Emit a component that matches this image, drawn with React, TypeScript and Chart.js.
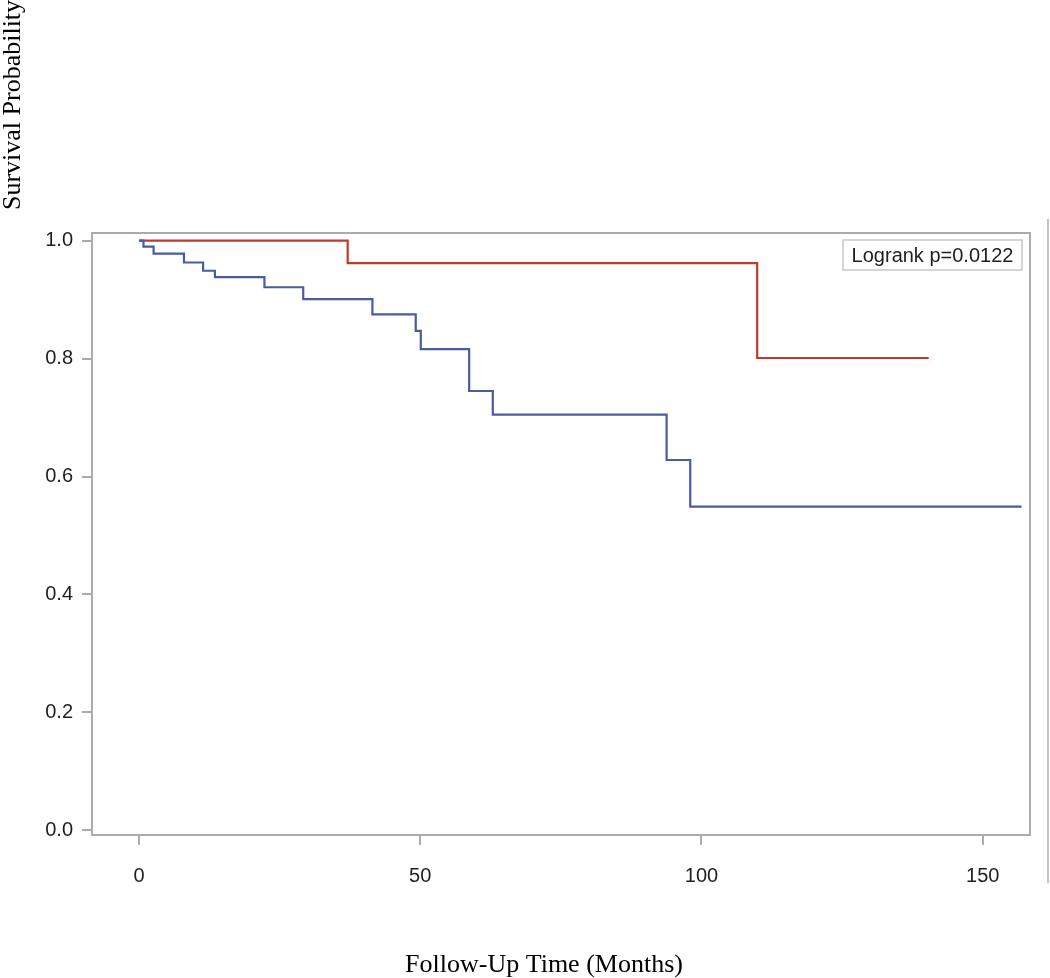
import React, { useEffect, useRef } from "react";
import { Chart, registerables } from "chart.js";

Chart.register(...registerables);

// Kaplan-Meier curves: time (months) of each step and survival after the step
const blueTimes = [0, 0.3, 0.8, 2.6, 8.0, 11.4, 13.5, 22.3, 29.2, 41.5, 49.2, 50.1, 58.7, 62.9, 93.8, 98.0, 156.9];
const blueSurv = [1.0, 1.0, 0.990, 0.978, 0.963, 0.949, 0.938, 0.921, 0.901, 0.875, 0.847, 0.816, 0.745, 0.705, 0.628, 0.549, 0.549];

const redTimes = [0, 37.1, 109.9, 140.4];
const redSurv = [1.0, 0.962, 0.801, 0.801];

const xTicks = [0, 50, 100, 150];
const yTicks = [0.0, 0.2, 0.4, 0.6, 0.8, 1.0];

const xTitle = "Follow-Up Time (Months)";
const yTitle = "Survival Probability";
const statText = "Logrank p=0.0122";

const SANS = "'Liberation Sans', Arial, sans-serif";
const SERIF = "'Liberation Serif', 'Times New Roman', serif";
const FRAME = "#ababab";

const decorPlugin = {
  id: "decor",
  afterDraw(chart: any) {
    const { ctx, chartArea } = chart;
    ctx.save();
    // frame top and right
    ctx.strokeStyle = FRAME;
    ctx.lineWidth = 2;
    ctx.beginPath();
    ctx.moveTo(chartArea.left, chartArea.top);
    ctx.lineTo(chartArea.right, chartArea.top);
    ctx.lineTo(chartArea.right, chartArea.bottom);
    ctx.stroke();

    // outer vertical rule at right
    ctx.strokeStyle = "#c4c4c4";
    ctx.lineWidth = 2;
    ctx.beginPath();
    ctx.moveTo(1048, 219);
    ctx.lineTo(1048, 883);
    ctx.stroke();

    // logrank box
    const bx = 843, by = 240, bw = 179, bh = 30;
    ctx.fillStyle = "#ffffff";
    ctx.fillRect(bx, by, bw, bh);
    ctx.strokeStyle = "#c8c8c8";
    ctx.lineWidth = 1.5;
    ctx.strokeRect(bx, by, bw, bh);
    ctx.fillStyle = "#1e1e1e";
    ctx.font = `20px ${SANS}`;
    ctx.textAlign = "center";
    ctx.textBaseline = "middle";
    ctx.fillText(statText, bx + bw / 2, by + bh / 2 + 1);

    // x title
    ctx.fillStyle = "#000000";
    ctx.font = `26px ${SERIF}`;
    ctx.textAlign = "center";
    ctx.textBaseline = "alphabetic";
    ctx.fillText(xTitle, 544, 972);

    // y title (rotated)
    ctx.translate(20, 105);
    ctx.rotate(-Math.PI / 2);
    ctx.fillText(yTitle, 0, 0);
    ctx.restore();
  },
};

export default function App() {
  const ref = useRef<HTMLCanvasElement | null>(null);

  useEffect(() => {
    if (!ref.current) return;
    const chart = new Chart(ref.current, {
      type: "line",
      data: {
        datasets: [
          {
            label: "Group 1",
            data: blueTimes.map((t, i) => ({ x: t, y: blueSurv[i] })),
            borderColor: "#4a5ba0",
            borderWidth: 2.2,
            pointRadius: 0,
            stepped: "before",
            fill: false,
          },
          {
            label: "Group 2",
            data: redTimes.map((t, i) => ({ x: t, y: redSurv[i] })),
            borderColor: "#bd3b2e",
            borderWidth: 2.2,
            pointRadius: 0,
            stepped: "before",
            fill: false,
          },
        ],
      },
      options: {
        responsive: false,
        animation: false,
        devicePixelRatio: 1,
        layout: { padding: { top: 233, right: 20, left: 0, bottom: 0 } },
        plugins: {
          legend: { display: false },
          tooltip: { enabled: false },
        },
        scales: {
          x: {
            type: "linear",
            min: -8.35,
            max: 158.4,
            afterBuildTicks: (s: any) => {
              s.ticks = xTicks.map((v) => ({ value: v }));
            },
            afterFit: (s: any) => {
              s.height = 143;
            },
            grid: {
              drawOnChartArea: false,
              drawTicks: true,
              tickLength: 10,
              color: FRAME,
              lineWidth: 2,
            },
            border: { display: true, color: FRAME, width: 2 },
            ticks: {
              color: "#1e1e1e",
              font: { family: SANS, size: 20 },
              padding: 19,
              maxRotation: 0,
              callback: (v: any) => String(v),
            },
          },
          y: {
            type: "linear",
            min: -0.008,
            max: 1.013,
            afterBuildTicks: (s: any) => {
              s.ticks = yTicks.map((v) => ({ value: v }));
            },
            afterFit: (s: any) => {
              s.width = 92;
            },
            grid: {
              drawOnChartArea: false,
              drawTicks: true,
              tickLength: 10,
              color: FRAME,
              lineWidth: 2,
            },
            border: { display: true, color: FRAME, width: 2 },
            ticks: {
              color: "#1e1e1e",
              font: { family: SANS, size: 20 },
              padding: 9,
              callback: (v: any) => Number(v).toFixed(1),
            },
          },
        },
      },
      plugins: [decorPlugin],
    });
    return () => chart.destroy();
  }, []);

  return (
    <div style={{ position: "absolute", left: 0, top: 0, width: 1050, height: 978, background: "#ffffff" }}>
      <canvas ref={ref} width={1050} height={978} style={{ width: 1050, height: 978, display: "block" }} />
    </div>
  );
}
